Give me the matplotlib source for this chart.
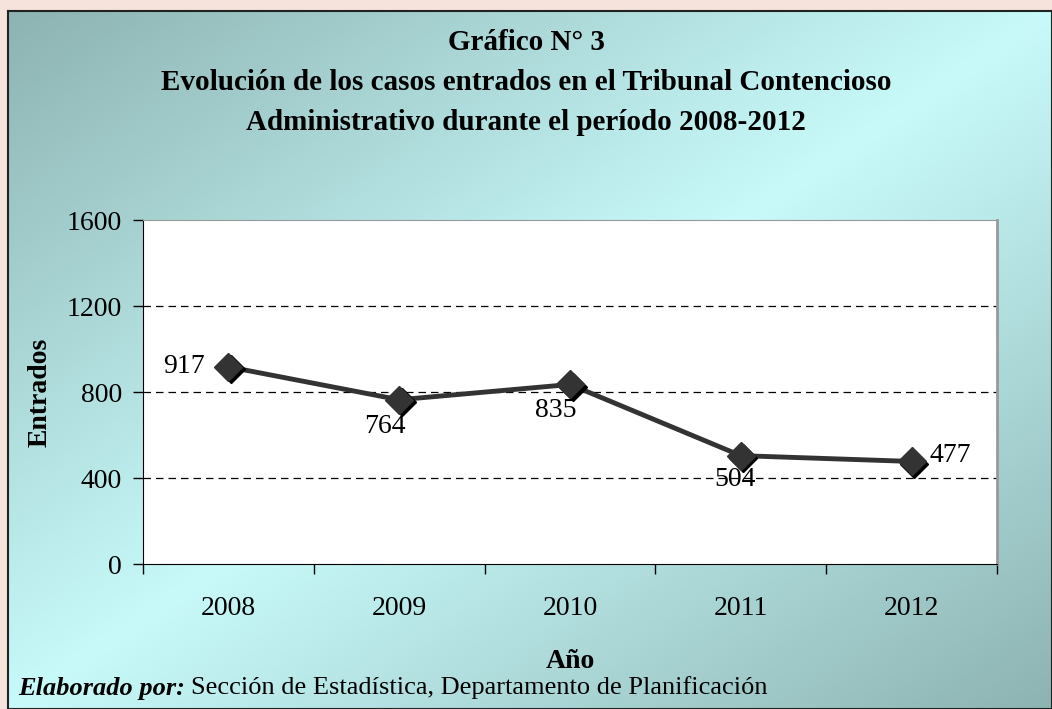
import numpy as np
import matplotlib
matplotlib.use("Agg")
import matplotlib.pyplot as plt
import matplotlib.transforms as mtransforms
from matplotlib.colors import LinearSegmentedColormap

# Datos
anios = ["2008", "2009", "2010", "2011", "2012"]
entrados = [917, 764, 835, 504, 477]
ticks_y = [0, 400, 800, 1200, 1600]

plt.rcParams['font.family'] = ['Liberation Serif', 'DejaVu Serif']

W, H = 1052, 709
fig = plt.figure(figsize=(W / 100, H / 100), dpi=100)
fig.patch.set_facecolor('#f5e3dc')

# Panel de fondo con degradado
bg = fig.add_axes([8 / W, 0, 1 - 8 / W, 1 - 11 / H])
yy, xx = np.mgrid[0:1:300j, 0:1:400j]
val = 1 - np.abs(xx + yy - 1)
cmap = LinearSegmentedColormap.from_list('fondo', ['#8db3b2', '#c8fafa'])
bg.imshow(val, cmap=cmap, aspect='auto', extent=[0, 1, 1, 0])
bg.set_xlim(0, 1)
bg.set_ylim(1, 0)
bg.set_xticks([])
bg.set_yticks([])
for s in bg.spines.values():
    s.set_color('#222222')
    s.set_linewidth(1.5)

titulo = ["Gráfico N° 3",
          "Evolución de los casos entrados en el Tribunal Contencioso",
          "Administrativo durante el período 2008-2012"]
for i, linea in enumerate(titulo):
    fig.text(0.5, 1 - (43 + 40 * i) / H, linea, ha='center', va='center',
             fontsize=21, fontweight='bold')

# Área del gráfico
left, right, top, bottom = 143, 997, 220, 564
ax = fig.add_axes([left / W, 1 - bottom / H, (right - left) / W, (bottom - top) / H])
ax.set_facecolor('white')
x = np.arange(len(anios))
ax.set_xlim(-0.5, len(anios) - 0.5)
ax.set_ylim(0, 1600)
ax.set_yticks(ticks_y)
ax.set_yticklabels([str(t) for t in ticks_y], fontsize=20)
ax.set_xticks(x)
ax.set_xticklabels(anios, fontsize=20)
ax.set_xticks(np.arange(-0.5, len(anios)), minor=True)
ax.tick_params(axis='x', which='major', length=0, pad=23)
ax.tick_params(axis='x', which='minor', length=7, width=1, direction='out')
ax.tick_params(axis='y', length=7, width=1, direction='out', pad=8)
for t in ticks_y[1:-1]:
    ax.axhline(t, color='black', linestyle=(0, (6, 4)), linewidth=0.9, zorder=1)
ax.spines['left'].set_color('black')
ax.spines['bottom'].set_color('black')
ax.spines['top'].set_color('#999999')
ax.spines['right'].set_color('#999999')
ax.spines['right'].set_linewidth(2)

ax.plot(x, entrados, color='#333333', linewidth=3.5, zorder=3)
sombra = mtransforms.offset_copy(ax.transData, fig=fig, x=2.5, y=-2.5, units='dots')
ax.plot(x, entrados, linestyle='none', marker='D', markersize=14,
        color='black', transform=sombra, zorder=4)
ax.plot(x, entrados, linestyle='none', marker='D', markersize=14,
        color='#333333', zorder=5)

offsets = [(-17, 0, 'right', 'center'), (-10, -19, 'center', 'center'),
           (-10, -19, 'center', 'center'), (-4, -17, 'center', 'center'),
           (13, 4, 'left', 'center')]
for xi, v, (dx, dy, ha, va) in zip(x, entrados, offsets):
    ax.annotate(str(v), (xi, v), xytext=(dx, dy), textcoords='offset points',
                ha=ha, va=va, fontsize=20, zorder=6)

fig.text(40 / W, 1 - 392 / H, "Entrados", rotation=90, ha='center', va='center',
         fontsize=20, fontweight='bold')
fig.text(570 / W, 1 - 662 / H, "Año", ha='center', va='center',
         fontsize=20, fontweight='bold')
t1 = fig.text(18 / W, 1 - 688 / H, "Elaborado por:", ha='left', va='center',
              fontsize=19, fontweight='bold', style='italic')
fig.canvas.draw()
bb = t1.get_window_extent()
fig.text((bb.x1 + 6) / W, 1 - 688 / H,
         "Sección de Estadística, Departamento de Planificación",
         ha='left', va='center', fontsize=19)

fig.savefig("out.png", dpi=100)
